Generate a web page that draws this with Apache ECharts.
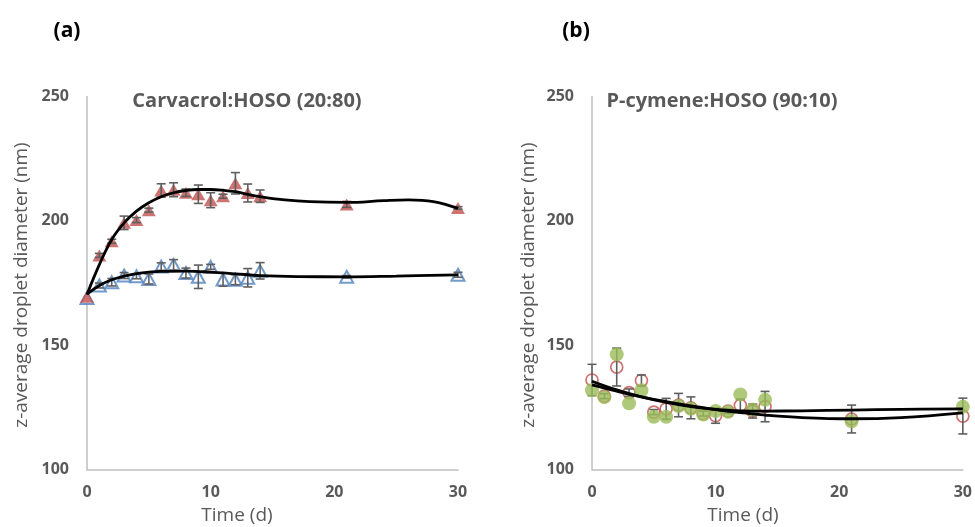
<!DOCTYPE html>
<html>
<head>
<meta charset="utf-8">
<script src="https://cdn.jsdelivr.net/npm/echarts@6/dist/echarts.min.js"></script>
<style>
html,body{margin:0;padding:0;background:#fff;}
#chart{width:975px;height:527px;}
</style>
</head>
<body>
<div id="chart"></div>
<script>
// ---------- data ----------
const days = [0,1,2,3,4,5,6,7,8,9,10,11,12,13,14,21,30];

// (a) Carvacrol:HOSO (20:80)
const aRed      = [169.5,186.1,191.8,199.2,200.3,204.3,212.2,212.5,211.3,210.7,208.3,209.9,215.1,211.2,209.9,206.6,205.2];
const aRedErr   = [0,0.8,0.8,2.7,1,0.8,2.7,2.8,1.5,3.7,3,0.8,4.3,3.6,2.5,1.2,0.5];
const aBlue     = [169,174,175.3,178,177.7,176.6,181.6,182.3,179,177.5,181.5,176.4,176.3,177.1,179.9,177.5,178.3];
const aBlueErr  = [0,1,1.5,1.2,1,2,1.5,2.1,2,4.7,1,2.7,2,3.7,3.3,0.5,1];
const aRedTrendX  = [0,1,2,3,4,5,6,7,8,9,10,11,12,13,14,16,18,21,24,26,28,30];
const aRedTrendY  = [170.4,182.4,192.5,199.2,203.9,207.3,209.7,211.3,212.2,212.6,212.6,212.3,211.7,210.6,209.7,208.4,207.7,207.4,208.1,208.4,207.7,205];
const aBlueTrendX = [0,1,2,3,4,5,6,8,10,12,14,17,21,25,30];
const aBlueTrendY = [170.5,174,176.3,177.8,178.8,179.4,179.7,179.8,179.4,178.7,178,177.6,177.5,177.8,178.3];

// (b) P-cymene:HOSO (90:10)
const bGreen    = [131.9,129.1,146.3,126.6,131.9,121.2,121.2,125.5,124.4,122.1,123.5,123.2,130.2,124.1,128,119.4,125.2];
const bRed      = [136,129.5,141.2,130.9,135.8,123.1,124.4,125.9,124.8,122.5,121.7,123.5,125.8,123.5,125.3,120.3,121.5];
const bRedErr   = [6.3,1,7.6,1.5,2.2,1,4.2,4.7,4.4,1,3.1,1,2.5,2.8,6.1,5.6,7.2];
const bTrendAX  = [0,2,4,6,8,10,12,14,17,21,25,30];
const bTrendAY  = [135.5,132,129.2,127,125.3,124.2,123.6,123.5,123.6,123.9,124.2,124.4];
const bTrendBX  = [0,2,4,6,8,10,12,14,17,21,25,30];
const bTrendBY  = [134,131.5,129.2,127.3,125.6,124.1,122.9,121.9,120.9,120.4,120.9,122.8];

const xTicks = [0,10,20,30];
const yTicks = [100,150,200,250];

// ---------- helpers ----------
const zip = (xs, ys) => xs.map((x,i)=>[x, ys[i]]);
const zipErr = (xs, ys, es) => xs.map((x,i)=>[x, ys[i], es[i]]);
const TXT = '#595959';
const FONT = '"Open Sans", sans-serif';

function errRender(params, api){
  const x = api.value(0), y = api.value(1), e = api.value(2);
  if (!e) return null;
  const top = api.coord([x, y + e]);
  const bot = api.coord([x, y - e]);
  const w = 4.5;
  const style = {stroke:'#5f5f5f', lineWidth:1.6};
  return {type:'group', children:[
    {type:'line', shape:{x1:top[0], y1:top[1], x2:bot[0], y2:bot[1]}, style},
    {type:'line', shape:{x1:top[0]-w, y1:top[1], x2:top[0]+w, y2:top[1]}, style},
    {type:'line', shape:{x1:bot[0]-w, y1:bot[1], x2:bot[0]+w, y2:bot[1]}, style}
  ]};
}

function xAxis(gi){
  return {gridIndex:gi, type:'value', min:0, max:30, interval:10,
    axisLine:{show:true, lineStyle:{color:'#bfbfbf', width:1.5}},
    axisTick:{show:false}, splitLine:{show:false},
    axisLabel:{color:TXT, fontWeight:'bold', fontSize:16, fontFamily:FONT, margin:15,
      formatter:v => xTicks.includes(v) ? String(v) : ''}};
}
function yAxis(gi){
  return {gridIndex:gi, type:'value', min:100, max:250, interval:50,
    axisLine:{show:true, lineStyle:{color:'#bfbfbf', width:1.5}},
    axisTick:{show:false}, splitLine:{show:false},
    axisLabel:{color:TXT, fontWeight:'bold', fontSize:16, fontFamily:FONT, margin:18,
      formatter:v => yTicks.includes(v) ? String(v) : ''}};
}
function trend(gi, data){
  return {type:'line', xAxisIndex:gi, yAxisIndex:gi, data, smooth:0.4, symbol:'none',
    lineStyle:{color:'#000', width:2.8}, z:10, silent:true};
}
function errSeries(gi, data, z){
  return {type:'custom', xAxisIndex:gi, yAxisIndex:gi, data, renderItem:errRender,
    encode:{x:0, y:1}, z, silent:true};
}

const chart = echarts.init(document.getElementById('chart'), null, {renderer:'canvas'});
chart.setOption({
  animation:false,
  backgroundColor:'#fff',
  grid:[
    {left:87, top:96.5, width:371, height:373},
    {left:592, top:96.5, width:373, height:373}
  ],
  xAxis:[xAxis(0), xAxis(1)],
  yAxis:[yAxis(0), yAxis(1)],
  series:[
    // (a)
    {type:'scatter', xAxisIndex:0, yAxisIndex:0, data:zip(days,aBlue), symbol:'triangle', symbolSize:[13,12],
      itemStyle:{color:'#fff', borderColor:'#4F81BD', borderWidth:2}, z:2},
    errSeries(0, zipErr(days,aBlue,aBlueErr), 3),
    {type:'scatter', xAxisIndex:0, yAxisIndex:0, data:zip(days,aRed), symbol:'triangle', symbolSize:[14,12],
      itemStyle:{color:'#C0504D'}, z:4},
    errSeries(0, zipErr(days,aRed,aRedErr), 5),
    trend(0, zip(aRedTrendX, aRedTrendY)),
    trend(0, zip(aBlueTrendX, aBlueTrendY)),
    // (b)
    {type:'scatter', xAxisIndex:1, yAxisIndex:1, data:zip(days,bRed), symbol:'circle', symbolSize:12,
      itemStyle:{color:'rgba(0,0,0,0)', borderColor:'#C0504D', borderWidth:1.7}, z:2},
    errSeries(1, zipErr(days,bRed,bRedErr), 3),
    {type:'scatter', xAxisIndex:1, yAxisIndex:1, data:zip(days,bGreen), symbol:'circle', symbolSize:14,
      itemStyle:{color:'#9BBB59'}, z:4},
    trend(1, zip(bTrendAX, bTrendAY)),
    trend(1, zip(bTrendBX, bTrendBY))
  ],
  graphic:[
    {type:'text', x:67, y:31, style:{text:'(a)', font:'bold 21px "Open Sans", sans-serif', fill:'#000', align:'center', verticalAlign:'middle'}},
    {type:'text', x:576, y:31, style:{text:'(b)', font:'bold 21px "Open Sans", sans-serif', fill:'#000', align:'center', verticalAlign:'middle'}},
    {type:'text', x:247, y:101, style:{text:'Carvacrol:HOSO (20:80)', font:'bold 20px "Open Sans", sans-serif', fill:TXT, align:'center', verticalAlign:'middle'}},
    {type:'text', x:722, y:101, style:{text:'P-cymene:HOSO (90:10)', font:'bold 20px "Open Sans", sans-serif', fill:TXT, align:'center', verticalAlign:'middle'}},
    {type:'text', x:237, y:516, style:{text:'Time (d)', font:'19px "Open Sans", sans-serif', fill:TXT, align:'center', verticalAlign:'middle'}},
    {type:'text', x:743, y:516, style:{text:'Time (d)', font:'19px "Open Sans", sans-serif', fill:TXT, align:'center', verticalAlign:'middle'}},
    {type:'text', x:22, y:285, rotation:Math.PI/2, style:{text:'z-average droplet diameter (nm)', font:'19px "Open Sans", sans-serif', fill:TXT, align:'center', verticalAlign:'middle'}},
    {type:'text', x:529, y:285, rotation:Math.PI/2, style:{text:'z-average droplet diameter (nm)', font:'19px "Open Sans", sans-serif', fill:TXT, align:'center', verticalAlign:'middle'}}
  ]
});
</script>
</body>
</html>
